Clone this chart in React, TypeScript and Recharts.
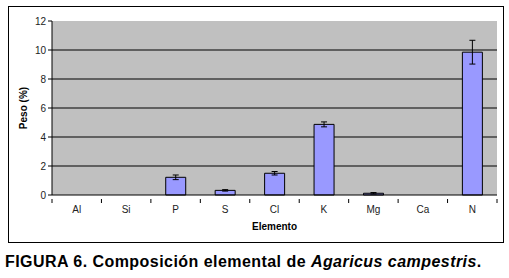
import React from 'react';
import { BarChart, Bar, XAxis, YAxis, CartesianGrid, ErrorBar } from 'recharts';

const categories = ['Al', 'Si', 'P', 'S', 'Cl', 'K', 'Mg', 'Ca', 'N'];
const pesoValues = [0, 0, 1.22, 0.32, 1.5, 4.87, 0.12, 0, 9.85];
const pesoErrors = [0, 0, 0.16, 0.05, 0.12, 0.17, 0.05, 0, 0.82];
const yTicks = [0, 2, 4, 6, 8, 10, 12];
const gridValues = [2, 4, 6, 8, 10];

const data = categories.map((c, i) => ({ name: c, peso: pesoValues[i], err: pesoErrors[i] }));

const FONT = '"Liberation Sans", Arial, sans-serif';
const Y_MIN = yTicks[0];
const Y_MAX = yTicks[yTicks.length - 1];

const gridGen = (p: any) => {
  const sc = p && p.yAxis && p.yAxis.scale;
  if (typeof sc === 'function') return gridValues.map((v) => sc(v));
  if (sc && typeof sc.map === 'function') return gridValues.map((v) => sc.map(v));
  const top = p.offset.top;
  const h = p.offset.height;
  return gridValues.map((v) => Math.round(top + h * (1 - (v - Y_MIN) / (Y_MAX - Y_MIN))) + 0.5);
};

const XTick = (props: any) => {
  const { x, y, payload, index } = props;
  const off = payload.offset || 0;
  const last = index === categories.length - 1;
  return (
    <g>
      <line x1={x - off} y1={y - 4} x2={x - off} y2={y} stroke="#000" strokeWidth={1} />
      {last && <line x1={x + off} y1={y - 4} x2={x + off} y2={y} stroke="#000" strokeWidth={1} />}
      <text x={x} y={y + 10} textAnchor="middle" fontSize={10} fontFamily={FONT} fill="#222">
        {payload.value}
      </text>
    </g>
  );
};

export default function App() {
  return (
    <div style={{ position: 'absolute', left: 0, top: 0, width: 509, height: 278, background: '#fff' }}>
      <div style={{ position: 'absolute', left: 8, top: 6, width: 496, height: 237, border: '1px solid #000', boxSizing: 'border-box' }} />
      <div style={{ position: 'absolute', left: 0, top: 0 }}>
        <BarChart width={509} height={247} data={data} margin={{ top: 21, right: 12, left: 0, bottom: 12 }} barCategoryGap="30%">
          <CartesianGrid
            vertical={false}
            fill="#C0C0C0"
            stroke="#000"
            strokeOpacity={1}
            horizontalCoordinatesGenerator={gridGen}
          />
          <XAxis
            dataKey="name"
            axisLine={{ stroke: '#000' }}
            tickLine={false}
            tick={<XTick />}
            interval={0}
            height={40}
            label={{ value: 'Elemento', position: 'insideBottom', offset: 5, fontSize: 10, fontWeight: 'bold', fontFamily: FONT, fill: '#000' }}
          />
          <YAxis
            domain={[Y_MIN, Y_MAX]}
            ticks={yTicks}
            width={52}
            axisLine={{ stroke: '#000' }}
            tickLine={{ stroke: '#000' }}
            tickSize={4}
            tickMargin={2}
            tick={{ fontSize: 10, fontFamily: FONT, fill: '#222' }}
            label={{ value: 'Peso (%)', angle: -90, position: 'insideLeft', offset: 23, textAnchor: 'middle', fontSize: 10, fontWeight: 'bold', fontFamily: FONT, fill: '#000' }}
          />
          <Bar dataKey="peso" fill="#9999FF" stroke="#000" strokeWidth={1} isAnimationActive={false}>
            <ErrorBar dataKey="err" width={3} stroke="#000" strokeWidth={1} isAnimationActive={false} />
          </Bar>
        </BarChart>
      </div>
      <div style={{ position: 'absolute', left: 5, top: 253, fontFamily: FONT, fontWeight: 'bold', fontSize: 16, letterSpacing: 0.45, color: '#000', whiteSpace: 'nowrap' }}>
        FIGURA 6. Composición elemental de <i>Agaricus campestris</i>.
      </div>
    </div>
  );
}
